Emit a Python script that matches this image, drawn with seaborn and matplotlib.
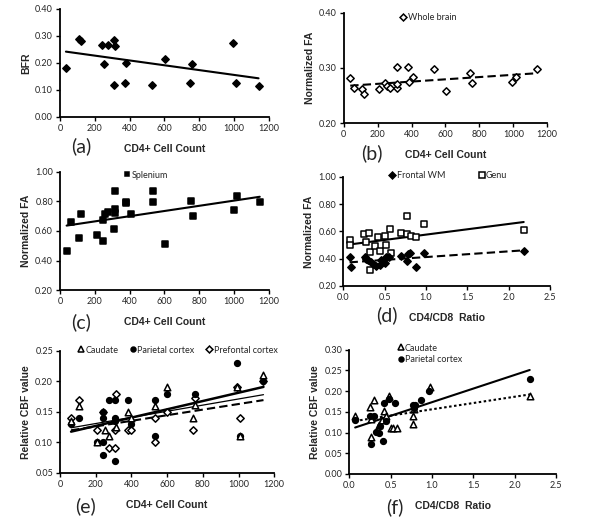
import numpy as np
import seaborn as sns
import matplotlib
matplotlib.use("Agg")
import matplotlib.pyplot as plt
from matplotlib.lines import Line2D
from matplotlib.ticker import FormatStrFormatter

# (a) BFR vs CD4+
a_cd4 = [34, 109, 120, 241, 254, 273, 311, 315, 313, 378, 376, 531, 602, 747, 759, 992, 1013, 1141]
a_bfr = [0.18, 0.29, 0.28, 0.266, 0.197, 0.266, 0.286, 0.262, 0.119, 0.201, 0.125, 0.117, 0.215, 0.127, 0.196, 0.273, 0.125, 0.115]

# (b) whole brain FA vs CD4+
b_cd4 = [38, 63, 107, 121, 208, 243, 255, 275, 312, 314, 314, 380, 383, 407, 534, 603, 747, 757, 992, 1014, 1141]
b_fa = [0.281, 0.264, 0.261, 0.253, 0.262, 0.273, 0.267, 0.264, 0.264, 0.270, 0.301, 0.301, 0.275, 0.284, 0.298, 0.258, 0.291, 0.273, 0.275, 0.284, 0.299]

# (c) splenium FA vs CD4+
c_cd4 = [38, 63, 109, 120, 210, 245, 247, 256, 277, 311, 315, 317, 315, 380, 382, 407, 537, 537, 606, 751, 762, 999, 1019, 1148]
c_fa = [0.462, 0.659, 0.553, 0.715, 0.571, 0.532, 0.672, 0.715, 0.731, 0.611, 0.873, 0.751, 0.722, 0.799, 0.79, 0.715, 0.873, 0.794, 0.512, 0.803, 0.702, 0.742, 0.835, 0.794]

# (d) FA vs CD4/CD8 ratio
d_genu_ratio = [0.077, 0.085, 0.254, 0.31, 0.27, 0.32, 0.325, 0.383, 0.42, 0.448, 0.5, 0.516, 0.56, 0.58, 0.694, 0.774, 0.77, 0.82, 0.875, 0.97, 2.18]
d_genu_fa = [0.534, 0.502, 0.585, 0.592, 0.526, 0.45, 0.315, 0.494, 0.558, 0.46, 0.568, 0.502, 0.62, 0.44, 0.592, 0.71, 0.58, 0.57, 0.56, 0.652, 0.61]
d_wm_ratio = [0.077, 0.09, 0.258, 0.28, 0.30, 0.33, 0.36, 0.40, 0.44, 0.46, 0.50, 0.516, 0.556, 0.70, 0.766, 0.786, 0.81, 0.875, 0.976, 2.18]
d_wm_fa = [0.41, 0.342, 0.416, 0.40, 0.39, 0.376, 0.36, 0.35, 0.355, 0.39, 0.37, 0.41, 0.41, 0.42, 0.38, 0.433, 0.44, 0.342, 0.44, 0.46]

# (e) relative CBF vs CD4+
e_cau_cd4 = [62, 108, 206, 252, 275, 314, 380, 400, 530, 600, 745, 757, 990, 1010, 1140]
e_cau_cbf = [0.135, 0.16, 0.10, 0.12, 0.11, 0.125, 0.15, 0.14, 0.16, 0.19, 0.14, 0.162, 0.19, 0.11, 0.21]
e_par_cd4 = [62, 108, 206, 243, 243, 243, 243, 277, 310, 310, 310, 310, 380, 400, 530, 530, 600, 757, 990, 1010, 1140]
e_par_cbf = [0.13, 0.14, 0.10, 0.15, 0.14, 0.10, 0.08, 0.17, 0.17, 0.14, 0.135, 0.07, 0.17, 0.13, 0.17, 0.11, 0.18, 0.18, 0.23, 0.11, 0.20]
e_pre_cd4 = [62, 108, 206, 243, 275, 314, 310, 310, 380, 400, 530, 530, 600, 745, 757, 990, 1010, 1140]
e_pre_cbf = [0.14, 0.17, 0.12, 0.15, 0.09, 0.18, 0.12, 0.09, 0.12, 0.12, 0.14, 0.10, 0.15, 0.12, 0.173, 0.19, 0.14, 0.20]

# (f) relative CBF vs CD4/CD8 ratio
f_cau_ratio = [0.072, 0.246, 0.26, 0.266, 0.30, 0.36, 0.40, 0.42, 0.44, 0.483, 0.50, 0.535, 0.576, 0.765, 0.765, 0.78, 0.97, 2.186]
f_cau_cbf = [0.139, 0.161, 0.133, 0.089, 0.179, 0.117, 0.131, 0.151, 0.139, 0.189, 0.111, 0.111, 0.111, 0.139, 0.121, 0.157, 0.209, 0.189]
f_par_ratio = [0.072, 0.246, 0.266, 0.30, 0.318, 0.36, 0.37, 0.41, 0.42, 0.447, 0.48, 0.55, 0.765, 0.80, 0.78, 0.866, 0.966, 2.18]
f_par_cbf = [0.131, 0.141, 0.071, 0.139, 0.101, 0.10, 0.115, 0.08, 0.171, 0.127, 0.182, 0.171, 0.167, 0.167, 0.159, 0.179, 0.20, 0.23]

sns.set_style("ticks")
plt.rcParams['font.family'] = ['Lato', 'DejaVu Sans']
tick_fs = 6.5
lab_font = dict(family='Liberation Sans', weight='bold', size=7.5)

fig = plt.figure(figsize=(6, 5.19), dpi=100)


def make_ax(rect, xlim, ylim, xticks, yticks, xfmt, yfmt, tag, tag_x):
    ax = fig.add_axes(rect)
    ax.set_xlim(xlim)
    ax.set_ylim(ylim)
    ax.set_xticks(xticks)
    ax.set_yticks(yticks)
    ax.xaxis.set_major_formatter(FormatStrFormatter(xfmt))
    ax.yaxis.set_major_formatter(FormatStrFormatter(yfmt))
    ax.tick_params(labelsize=tick_fs, length=3, width=1, color='black', pad=2)
    for s in ['top', 'right']:
        ax.spines[s].set_visible(False)
    for s in ['left', 'bottom']:
        ax.spines[s].set_linewidth(1.3)
        ax.spines[s].set_color('black')
    ax.text(tag_x, -0.27, tag, transform=ax.transAxes, fontsize=14, ha='center', va='center')
    return ax


def labels(ax, xlabel, ylabel):
    ax.set_xlabel(xlabel, fontdict=lab_font, labelpad=8)
    ax.set_ylabel(ylabel, fontdict=lab_font, labelpad=3)


def pts(ax, x, y, marker, filled, size=14):
    sns.scatterplot(x=x, y=y, ax=ax, marker=marker, s=size,
                    color='black' if filled else 'white', edgecolor='black',
                    linewidth=1.1, zorder=3, legend=False)


def fit(ax, x, y, ls, lw=1.5):
    sns.regplot(x=x, y=y, ax=ax, scatter=False, ci=None, truncate=True,
                line_kws=dict(color='black', ls=ls, lw=lw, zorder=2))


def handle(marker, filled, label, ms=3.5):
    return Line2D([], [], ls='none', marker=marker, ms=ms, mfc='black' if filled else 'white',
                  mec='black', mew=1.1, label=label)


leg_kw = dict(frameon=False, fontsize=6.5, handlelength=0.6, handletextpad=0.2, borderpad=0,
              borderaxespad=0, labelspacing=0.3)

# (a)
ax = make_ax([0.1, 0.775, 0.348, 0.208], (0, 1200), (0, 0.4), range(0, 1201, 200),
             [0, 0.1, 0.2, 0.3, 0.4], '%d', '%.2f', '(a)', 0.1)
pts(ax, a_cd4, a_bfr, 'D', True)
fit(ax, a_cd4, a_bfr, '-')
labels(ax, 'CD4+ Cell Count', 'BFR')

# (b)
ax = make_ax([0.573, 0.763, 0.339, 0.212], (0, 1200), (0.2, 0.4), range(0, 1201, 200),
             [0.2, 0.3, 0.4], '%d', '%.2f', '(b)', 0.14)
pts(ax, b_cd4, b_fa, 'D', False)
fit(ax, b_cd4, b_fa, (0, (4, 2)))
labels(ax, 'CD4+ Cell Count', 'Normalized FA')
ax.legend(handles=[handle('D', False, 'Whole brain')], loc='upper left',
          bbox_to_anchor=(0.28, 1.0), **leg_kw)

# (c)
ax = make_ax([0.1, 0.441, 0.348, 0.228], (0, 1200), (0.2, 1.0), range(0, 1201, 200),
             [0.2, 0.4, 0.6, 0.8, 1.0], '%d', '%.2f', '(c)', 0.1)
pts(ax, c_cd4, c_fa, 's', True, 13)
fit(ax, c_cd4, c_fa, '-')
labels(ax, 'CD4+ Cell Count', 'Normalized FA')
ax.legend(handles=[handle('s', True, 'Splenium', 3.2)], loc='upper left',
          bbox_to_anchor=(0.31, 1.01), **leg_kw)

# (d)
ax = make_ax([0.572, 0.449, 0.345, 0.21], (0, 2.5), (0.2, 1.0), [0, 0.5, 1.0, 1.5, 2.0, 2.5],
             [0.2, 0.4, 0.6, 0.8, 1.0], '%.1f', '%.2f', '(d)', 0.21)
pts(ax, d_genu_ratio, d_genu_fa, 's', False, 18)
pts(ax, d_wm_ratio, d_wm_fa, 'D', True)
fit(ax, d_genu_ratio, d_genu_fa, '-')
fit(ax, d_wm_ratio, d_wm_fa, (0, (4, 2)))
labels(ax, 'CD4/CD8  Ratio', 'Normalized FA')
ax.legend(handles=[handle('D', True, 'Frontal WM'), handle('s', False, 'Genu', 4)],
          loc='lower left', bbox_to_anchor=(0.225, 0.97), ncol=2, columnspacing=3.7, **leg_kw)

# (e)
ax = make_ax([0.1, 0.089, 0.357, 0.235], (0, 1200), (0.05, 0.25), range(0, 1201, 200),
             [0.05, 0.1, 0.15, 0.2, 0.25], '%d', '%.2f', '(e)', 0.12)
pts(ax, e_pre_cd4, e_pre_cbf, 'D', False)
pts(ax, e_par_cd4, e_par_cbf, 'o', True, 17)
pts(ax, e_cau_cd4, e_cau_cbf, '^', False, 22)
fit(ax, e_cau_cd4, e_cau_cbf, '-', 0.9)
fit(ax, e_par_cd4, e_par_cbf, '-', 1.8)
fit(ax, e_pre_cd4, e_pre_cbf, (0, (4, 2)))
labels(ax, 'CD4+ Cell Count', 'Relative CBF value')
ax.legend(handles=[handle('^', False, 'Caudate', 4), handle('o', True, 'Parietal cortex'),
                   handle('D', False, 'Prefontal cortex')],
          loc='lower left', bbox_to_anchor=(0.085, 0.97), ncol=3, columnspacing=1.3, **leg_kw)

# (f)
ax = make_ax([0.582, 0.087, 0.345, 0.239], (0, 2.5), (0, 0.3), [0, 0.5, 1.0, 1.5, 2.0, 2.5],
             [0, 0.05, 0.1, 0.15, 0.2, 0.25, 0.3], '%.1f', '%.2f', '(f)', 0.22)
pts(ax, f_cau_ratio, f_cau_cbf, '^', False, 22)
pts(ax, f_par_ratio, f_par_cbf, 'o', True, 17)
fit(ax, f_cau_ratio, f_cau_cbf, (0, (1.2, 1.2)))
fit(ax, f_par_ratio, f_par_cbf, '-')
labels(ax, 'CD4/CD8  Ratio', 'Relative CBF value')
ax.legend(handles=[handle('^', False, 'Caudate', 4), handle('o', True, 'Parietal cortex')],
          loc='upper left', bbox_to_anchor=(0.235, 1.05), **leg_kw)

fig.savefig('out.png', dpi=100)
